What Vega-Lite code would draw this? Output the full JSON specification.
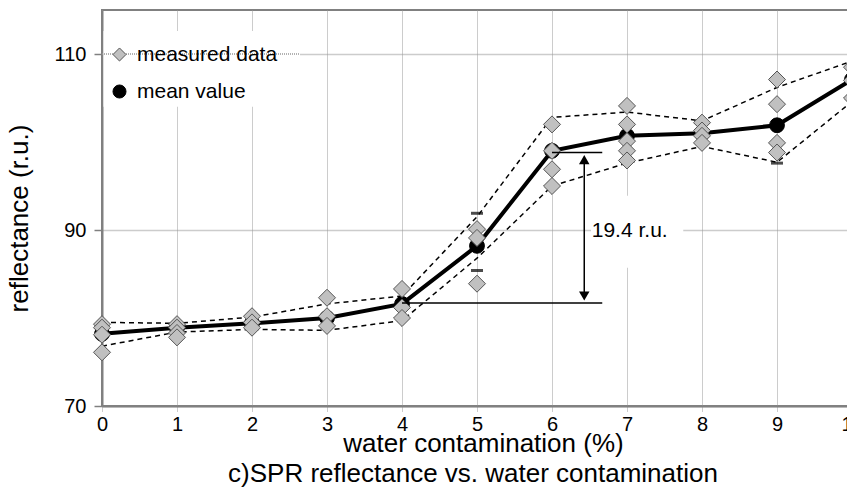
{
  "$schema": "https://vega.github.io/schema/vega-lite/v6.json",
  "width": 750,
  "height": 396,
  "autosize": {"type": "none"},
  "padding": {"left": 102, "top": 10, "right": 0, "bottom": 83},
  "background": "white",
  "config": {
    "font": "Liberation Sans",
    "view": {"stroke": "#808080", "strokeWidth": 2}
  },
  "title": {
    "text": "c)SPR reflectance vs. water contamination",
    "orient": "bottom",
    "frame": "group",
    "anchor": "middle",
    "fontSize": 26,
    "fontWeight": "normal",
    "color": "black",
    "offset": 5,
    "dx": -4
  },
  "datasets": {
    "pts": [
      {"x": 0, "y": 78.2, "series": "mean value"},
      {"x": 1, "y": 78.9, "series": "mean value"},
      {"x": 2, "y": 79.4, "series": "mean value"},
      {"x": 3, "y": 80.0, "series": "mean value"},
      {"x": 4, "y": 81.6, "series": "mean value"},
      {"x": 5, "y": 88.2, "series": "mean value"},
      {"x": 6, "y": 99.0, "series": "mean value"},
      {"x": 7, "y": 100.7, "series": "mean value"},
      {"x": 8, "y": 101.0, "series": "mean value"},
      {"x": 9, "y": 101.9, "series": "mean value"},
      {"x": 10, "y": 107.1, "series": "mean value"},
      {"x": 0, "y": 79.3, "series": "measured data"},
      {"x": 0, "y": 78.9, "series": "measured data"},
      {"x": 0, "y": 78.1, "series": "measured data"},
      {"x": 0, "y": 76.1, "series": "measured data"},
      {"x": 1, "y": 79.3, "series": "measured data"},
      {"x": 1, "y": 78.9, "series": "measured data"},
      {"x": 1, "y": 78.3, "series": "measured data"},
      {"x": 1, "y": 77.8, "series": "measured data"},
      {"x": 2, "y": 80.2, "series": "measured data"},
      {"x": 2, "y": 79.5, "series": "measured data"},
      {"x": 2, "y": 78.9, "series": "measured data"},
      {"x": 3, "y": 82.3, "series": "measured data"},
      {"x": 3, "y": 80.2, "series": "measured data"},
      {"x": 3, "y": 79.1, "series": "measured data"},
      {"x": 4, "y": 83.3, "series": "measured data"},
      {"x": 4, "y": 81.2, "series": "measured data"},
      {"x": 4, "y": 80.0, "series": "measured data"},
      {"x": 5, "y": 90.1, "series": "measured data"},
      {"x": 5, "y": 89.1, "series": "measured data"},
      {"x": 5, "y": 83.9, "series": "measured data"},
      {"x": 6, "y": 102.0, "series": "measured data"},
      {"x": 6, "y": 99.0, "series": "measured data"},
      {"x": 6, "y": 96.9, "series": "measured data"},
      {"x": 6, "y": 95.0, "series": "measured data"},
      {"x": 7, "y": 104.1, "series": "measured data"},
      {"x": 7, "y": 102.0, "series": "measured data"},
      {"x": 7, "y": 100.1, "series": "measured data"},
      {"x": 7, "y": 99.0, "series": "measured data"},
      {"x": 7, "y": 97.9, "series": "measured data"},
      {"x": 8, "y": 102.2, "series": "measured data"},
      {"x": 8, "y": 101.3, "series": "measured data"},
      {"x": 8, "y": 100.7, "series": "measured data"},
      {"x": 8, "y": 99.9, "series": "measured data"},
      {"x": 9, "y": 107.1, "series": "measured data"},
      {"x": 9, "y": 104.3, "series": "measured data"},
      {"x": 9, "y": 99.9, "series": "measured data"},
      {"x": 9, "y": 98.8, "series": "measured data"},
      {"x": 10, "y": 108.5, "series": "measured data"},
      {"x": 10, "y": 107.0, "series": "measured data"},
      {"x": 10, "y": 105.0, "series": "measured data"}
    ],
    "band": [
      {"x": 0, "y": 79.5, "bound": "upper"},
      {"x": 1, "y": 79.4, "bound": "upper"},
      {"x": 2, "y": 80.1, "bound": "upper"},
      {"x": 3, "y": 81.6, "bound": "upper"},
      {"x": 4, "y": 82.5, "bound": "upper"},
      {"x": 5, "y": 91.5, "bound": "upper"},
      {"x": 6, "y": 102.8, "bound": "upper"},
      {"x": 7, "y": 103.4, "bound": "upper"},
      {"x": 8, "y": 102.4, "bound": "upper"},
      {"x": 9, "y": 106.2, "bound": "upper"},
      {"x": 10, "y": 109.2, "bound": "upper"},
      {"x": 0, "y": 76.8, "bound": "lower"},
      {"x": 1, "y": 78.4, "bound": "lower"},
      {"x": 2, "y": 78.7, "bound": "lower"},
      {"x": 3, "y": 78.6, "bound": "lower"},
      {"x": 4, "y": 79.7, "bound": "lower"},
      {"x": 5, "y": 86.8, "bound": "lower"},
      {"x": 6, "y": 95.0, "bound": "lower"},
      {"x": 7, "y": 97.6, "bound": "lower"},
      {"x": 8, "y": 99.5, "bound": "lower"},
      {"x": 9, "y": 97.7, "bound": "lower"},
      {"x": 10, "y": 104.6, "bound": "lower"}
    ],
    "caps": [
      {"x": 5, "y": 91.9},
      {"x": 5, "y": 85.4},
      {"x": 9, "y": 97.6}
    ]
  },
  "encoding": {
    "x": {
      "field": "x",
      "type": "quantitative",
      "scale": {"domain": [0, 10], "nice": false, "zero": false},
      "axis": {
        "values": [0, 1, 2, 3, 4, 5, 6, 7, 8, 9, 10],
        "grid": true,
        "gridDash": [1, 1],
        "gridColor": "#999999",
        "gridWidth": 1,
        "tickColor": "#999999",
        "tickDash": [1, 1],
        "tickSize": 6,
        "labelFontSize": 20,
        "labelColor": "black",
        "labelDx": -7,
        "labelPadding": 2,
        "labelFlush": false,
        "labelOverlap": false,
        "domainColor": "#808080",
        "domainWidth": 2,
        "title": "water contamination (%)",
        "titleFontSize": 26,
        "titleFontWeight": "normal",
        "titleColor": "black",
        "titleX": 381,
        "titleY": 24
      }
    },
    "y": {
      "field": "y",
      "type": "quantitative",
      "scale": {"domain": [70, 115], "nice": false, "zero": false},
      "axis": {
        "values": [70, 90, 110],
        "grid": true,
        "gridDash": [1, 1],
        "gridColor": "#999999",
        "gridWidth": 1.5,
        "tickColor": "#808080",
        "tickSize": 8,
        "tickWidth": 1.5,
        "labelFontSize": 20,
        "labelColor": "black",
        "labelPadding": 8,
        "domainColor": "#808080",
        "domainWidth": 2,
        "title": "reflectance (r.u.)",
        "titleFontSize": 26,
        "titleFontWeight": "normal",
        "titleColor": "black",
        "titleX": -70,
        "titleY": 208
      }
    }
  },
  "layer": [
    {
      "data": {"values": [{"x": 0.02, "x2": 2.64, "y": 104.0, "y2": 112.6}]},
      "mark": {"type": "rect", "fill": "white"},
      "encoding": {"x2": {"field": "x2"}, "y2": {"field": "y2"}}
    },
    {
      "data": {"values": [{"x": 0, "x2": 2.64, "y": 110}]},
      "mark": {"type": "rule", "color": "#999999", "strokeDash": [1, 1], "strokeWidth": 1.5},
      "encoding": {"x2": {"field": "x2"}}
    },
    {
      "data": {"values": [{"x": 6.52, "x2": 7.75, "y": 85.7, "y2": 93.9}]},
      "mark": {"type": "rect", "fill": "white"},
      "encoding": {"x2": {"field": "x2"}, "y2": {"field": "y2"}}
    },
    {
      "data": {"name": "band"},
      "mark": {"type": "line", "color": "black", "strokeDash": [5, 4], "strokeWidth": 1.5},
      "encoding": {"detail": {"field": "bound"}}
    },
    {
      "data": {"name": "caps"},
      "mark": {"type": "tick", "orient": "horizontal", "color": "black", "size": 12, "thickness": 3}
    },
    {
      "data": {"name": "pts"},
      "transform": [{"filter": "datum.series === 'mean value'"}],
      "mark": {"type": "line", "color": "black", "strokeWidth": 4}
    },
    {
      "data": {"name": "pts"},
      "transform": [{"filter": "datum.series === 'mean value'"}],
      "mark": {"type": "point", "filled": true, "strokeWidth": 1, "opacity": 1, "size": 220},
      "encoding": {
        "fill": {
          "field": "series",
          "type": "nominal",
          "scale": {"domain": ["measured data", "mean value"], "range": ["#c0c0c0", "#000000"]},
          "legend": {"orient": "none", "legendX": 7, "legendY": 34, "title": null, "labelFontSize": 21, "labelColor": "black", "symbolSize": 170, "symbolStrokeWidth": 1, "rowPadding": 15, "labelOffset": 7, "padding": 0}
        },
        "stroke": {
          "field": "series",
          "type": "nominal",
          "scale": {"domain": ["measured data", "mean value"], "range": ["#555555", "#000000"]},
          "legend": {"orient": "none", "legendX": 7, "legendY": 34, "title": null, "labelFontSize": 21, "labelColor": "black", "symbolSize": 170, "symbolStrokeWidth": 1, "rowPadding": 15, "labelOffset": 7, "padding": 0}
        },
        "shape": {
          "field": "series",
          "type": "nominal",
          "scale": {"domain": ["measured data", "mean value"], "range": ["diamond", "circle"]},
          "legend": {"orient": "none", "legendX": 7, "legendY": 34, "title": null, "labelFontSize": 21, "labelColor": "black", "symbolSize": 170, "symbolStrokeWidth": 1, "rowPadding": 15, "labelOffset": 7, "padding": 0}
        }
      }
    },
    {
      "data": {"name": "pts"},
      "transform": [{"filter": "datum.series === 'measured data'"}],
      "mark": {"type": "point", "filled": true, "strokeWidth": 1, "opacity": 1, "size": 290},
      "encoding": {
        "fill": {"field": "series", "type": "nominal"},
        "stroke": {"field": "series", "type": "nominal"},
        "shape": {"field": "series", "type": "nominal"}
      }
    },
    {
      "data": {"values": [{"x": 4, "x2": 6.67, "y": 81.7}, {"x": 6, "x2": 6.67, "y": 98.8}]},
      "mark": {"type": "rule", "color": "black", "strokeWidth": 1.5},
      "encoding": {"x2": {"field": "x2"}}
    },
    {
      "data": {"values": [{"x": 6.43, "y": 82.6, "y2": 98.0}]},
      "mark": {"type": "rule", "color": "black", "strokeWidth": 1.5},
      "encoding": {"y2": {"field": "y2"}}
    },
    {
      "data": {"values": [{"x": 6.43, "y": 98.0}]},
      "mark": {"type": "point", "shape": "triangle-up", "filled": true, "color": "black", "size": 110, "opacity": 1}
    },
    {
      "data": {"values": [{"x": 6.43, "y": 82.5}]},
      "mark": {"type": "point", "shape": "triangle-down", "filled": true, "color": "black", "size": 110, "opacity": 1}
    },
    {
      "data": {"values": [{"x": 6.53, "y": 89.9, "label": "19.4 r.u."}]},
      "mark": {"type": "text", "align": "left", "baseline": "middle", "fontSize": 21, "color": "black"},
      "encoding": {"text": {"field": "label"}}
    }
  ]
}
